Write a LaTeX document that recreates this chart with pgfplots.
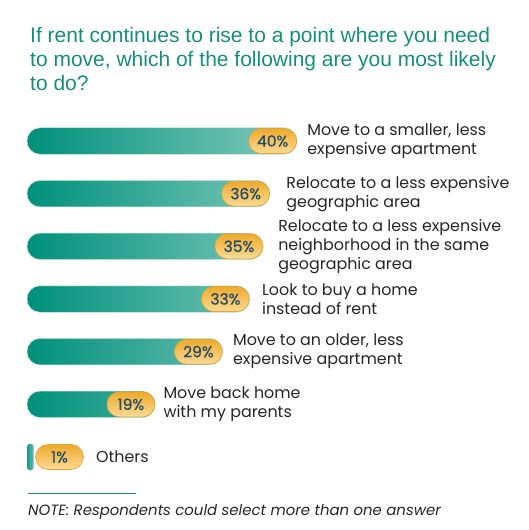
\documentclass[border=0pt]{standalone}
\usepackage{pgfplots}
\pgfplotsset{compat=1.18}
\usepackage{fontspec}
\setmainfont{Poppins}
\newfontfamily\titlefont{Liberation Sans}
\newfontfamily\pillfont{Poppins}[FakeBold=0.5]

\definecolor{tealdark}{HTML}{00917A}
\definecolor{teallight}{HTML}{84CABD}
\definecolor{titleteal}{HTML}{13907A}
\definecolor{pilltop}{HTML}{EEAA2C}
\definecolor{pillbot}{HTML}{FCDA94}
\definecolor{pilledge}{HTML}{E2A433}
\definecolor{pilltext}{HTML}{1F4B6B}
\definecolor{labeltext}{HTML}{262626}

% category labels, looked up by index
\expandafter\def\csname cat0\endcsname{Move to a smaller, less\\expensive apartment}
\expandafter\def\csname cat1\endcsname{Relocate to a less expensive\\geographic area}
\expandafter\def\csname cat2\endcsname{Relocate to a less expensive\\neighborhood in the same\\geographic area}
\expandafter\def\csname cat3\endcsname{Look to buy a home\\instead of rent}
\expandafter\def\csname cat4\endcsname{Move to an older, less\\expensive apartment}
\expandafter\def\csname cat5\endcsname{Move back home\\with my parents}
\expandafter\def\csname cat6\endcsname{Others}

\tikzset{
  pill/.style={shape=rectangle, rounded corners=12.5bp,
    top color=pilltop, bottom color=pillbot, draw=pilledge, line width=0.6bp,
    minimum width=48bp, minimum height=25bp, inner sep=0pt, text=pilltext,
    font=\pillfont\fontsize{15.5bp}{18bp}\selectfont},
  cat/.style={align=left, text=labeltext, inner sep=0pt,
    font=\fontsize{15.9bp}{19bp}\selectfont},
  ttl/.style={anchor=base west, text=titleteal, inner sep=0pt,
    font=\titlefont\fontsize{21bp}{24bp}\selectfont}
}

\begin{document}
\begin{tikzpicture}
\path[use as bounding box] (0bp,0bp) rectangle (529bp,530bp);

\node[ttl] at (30bp,487bp) {If rent continues to rise to a point where you need};
\node[ttl] at (30bp,463.5bp) {to move, which of the following are you most likely};
\node[ttl] at (30bp,439.5bp) {to do?};

\begin{axis}[
  at={(27bp,73bp)}, anchor=south west,
  scale only axis, width=270bp, height=316bp,
  xmin=0, xmax=40, ymin=0, ymax=6, y dir=reverse,
  hide axis, clip=false,
  /pgf/number format/assume math mode=true,
]
% main bars
\addplot[xbar, bar width=26.5bp, bar shift=0pt, draw=teallight!40!white, line width=0.5bp,
  left color=tealdark, right color=teallight, rounded corners=13bp,
  point meta=x,
  nodes near coords={\pgfmathprintnumber{\pgfplotspointmeta}\%},
  every node near coord/.style={pill, anchor=east}]
coordinates {(40,0) (36,1) (35,2) (33,3) (29,4) (19,5)};

% others
\addplot[xbar, bar width=26.5bp, bar shift=0pt, draw=none,
  left color=tealdark!85!teallight, right color=teallight!80!tealdark, rounded corners=3bp,
  point meta=x,
  nodes near coords={\pgfmathprintnumber{\pgfplotspointmeta}\%},
  every node near coord/.style={pill, anchor=west, xshift=1.5bp}]
coordinates {(1,6)};

% category labels
\addplot[draw=none, mark=none, point meta=explicit symbolic,
  nodes near coords={\csname cat\pgfplotspointmeta\endcsname},
  every node near coord/.style={cat, anchor=west}]
coordinates {(41.5,0) [0] (38.4,1) [1] (37.2,2) [2] (34.8,3) [3]
  (30.5,4) [4] (20.2,5) [5] (10.2,6) [6]};
\end{axis}

\draw[titleteal, line width=0.8bp] (28bp,37bp) -- (136bp,37bp);
\node[anchor=base west, inner sep=0pt, text=labeltext,
  font=\itshape\fontsize{14.9bp}{16bp}\selectfont] at (28bp,15bp)
  {NOTE: Respondents could select more than one answer};
\end{tikzpicture}
\end{document}
